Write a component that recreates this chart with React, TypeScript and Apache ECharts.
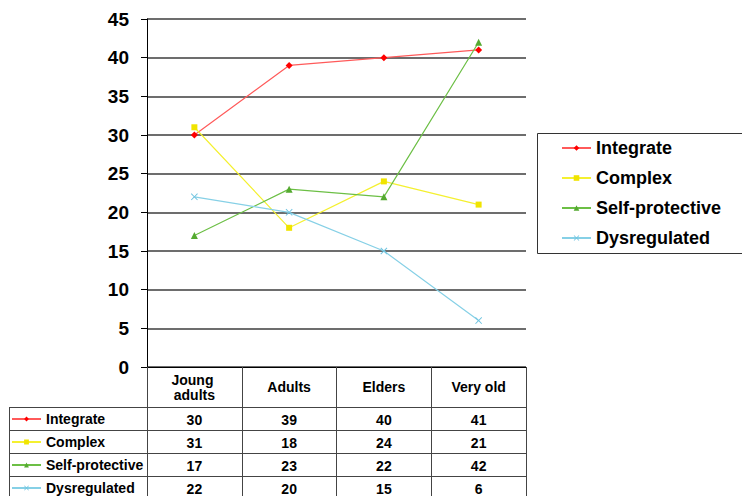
import React, { useEffect, useRef } from "react";
import * as echarts from "echarts";

const categories = ["Joung adults", "Adults", "Elders", "Very old"];
const seriesNames = ["Integrate", "Complex", "Self-protective", "Dysregulated"];
const integrate = [30, 39, 40, 41];
const complex = [31, 18, 24, 21];
const selfProtective = [17, 23, 22, 42];
const dysregulated = [22, 20, 15, 6];
const yTicks = { min: 0, max: 45, interval: 5 };

const FONT = "'Liberation Sans', Arial, sans-serif";
const W = 742;
const H = 496;
const GL = 147;
const GR = 526;
const GT = 19;
const GB = 367;
const ROW_TOP = 407.5;
const ROW_H = 23;

const xSym = "path://M0,1 L1,0 L5,4 L9,0 L10,1 L6,5 L10,9 L9,10 L5,6 L1,10 L0,9 L4,5 Z";

export default function App() {
  const ref = useRef<HTMLDivElement>(null);
  useEffect(() => {
    if (!ref.current) return;
    const chart = echarts.init(ref.current, null, { renderer: "svg" });
    const values = [integrate, complex, selfProtective, dysregulated];
    const lineColors = ["#ff5a5a", "#f4f030", "#6cbf45", "#86d0e6"];
    const markColors = ["#ff0000", "#f0e400", "#55aa30", "#70c4e0"];
    const symbols = ["diamond", "rect", "triangle", xSym];
    const symSizes = [7, 6, 7, 7];

    const series = seriesNames.map((name, i) => ({
      name,
      type: "line",
      data: values[i],
      symbol: symbols[i],
      symbolSize: symSizes[i],
      lineStyle: { color: lineColors[i], width: 1.2 },
      itemStyle: { color: markColors[i] },
      z: 3,
    }));

    const colW = (GR - GL) / categories.length;
    const graphics: any[] = [];
    for (let r = 0; r < 4; r++) {
      const y = ROW_TOP + r * ROW_H;
      graphics.push({
        type: "line",
        shape: { x1: 9, y1: y, x2: GR, y2: y },
        style: { stroke: "#444", lineWidth: 1 },
      });
    }
    graphics.push({
      type: "line",
      shape: { x1: 9.5, y1: ROW_TOP, x2: 9.5, y2: H },
      style: { stroke: "#444", lineWidth: 1 },
    });
    values.forEach((vals, r) => {
      vals.forEach((v, c) => {
        graphics.push({
          type: "text",
          x: GL + colW * (c + 0.5),
          y: ROW_TOP + ROW_H * (r + 0.5) + 0.5,
          style: {
            text: String(v),
            fontFamily: FONT,
            fontWeight: "bold",
            fontSize: 14,
            fill: "#000",
            textAlign: "center",
            textVerticalAlign: "middle",
          },
        });
      });
    });
    graphics.push({
      type: "rect",
      shape: { x: 537.5, y: 133.5, width: 230, height: 120 },
      style: { fill: "none", stroke: "#333", lineWidth: 1 },
    });

    chart.setOption({
      animation: false,
      grid: { left: GL, right: W - GR, top: GT, bottom: H - GB, containLabel: false },
      legend: [
        {
          data: seriesNames,
          orient: "vertical",
          left: 561,
          top: 138,
          padding: 0,
          itemWidth: 29,
          itemHeight: 7,
          itemGap: 10,
          textStyle: { fontFamily: FONT, fontWeight: "bold", fontSize: 18, color: "#000", lineHeight: 20 },
          selectedMode: false,
        },
        {
          data: seriesNames,
          orient: "vertical",
          left: 11,
          top: ROW_TOP + 3.5,
          padding: 0,
          itemWidth: 29,
          itemHeight: 6,
          itemGap: 7,
          textStyle: { fontFamily: FONT, fontWeight: "bold", fontSize: 14, color: "#000", lineHeight: 16 },
          selectedMode: false,
        },
      ],
      xAxis: {
        type: "category",
        data: categories,
        boundaryGap: true,
        axisLine: { lineStyle: { color: "#000", width: 1 } },
        axisTick: { show: true, length: H - GB, lineStyle: { color: "#444" }, interval: 0 },
        axisLabel: {
          interval: 0,
          margin: 20,
          verticalAlign: "middle",
          fontFamily: FONT,
          fontWeight: "bold",
          fontSize: 14,
          color: "#000",
          lineHeight: 15,
          width: 75,
          overflow: "break",
        },
      },
      yAxis: {
        type: "value",
        min: yTicks.min,
        max: yTicks.max,
        interval: yTicks.interval,
        axisLine: { show: true, lineStyle: { color: "#000", width: 1 } },
        axisTick: { show: true, length: 6, lineStyle: { color: "#000" } },
        axisLabel: {
          margin: 18,
          fontFamily: FONT,
          fontWeight: "bold",
          fontSize: 19,
          color: "#000",
        },
        splitLine: { show: true, lineStyle: { color: "#3c3c3c", width: 1.5 } },
      },
      series,
      graphic: graphics,
    });
    return () => chart.dispose();
  }, []);
  return (
    <div
      ref={ref}
      style={{ position: "absolute", left: 0, top: 0, width: W, height: H, background: "#fff" }}
    />
  );
}
